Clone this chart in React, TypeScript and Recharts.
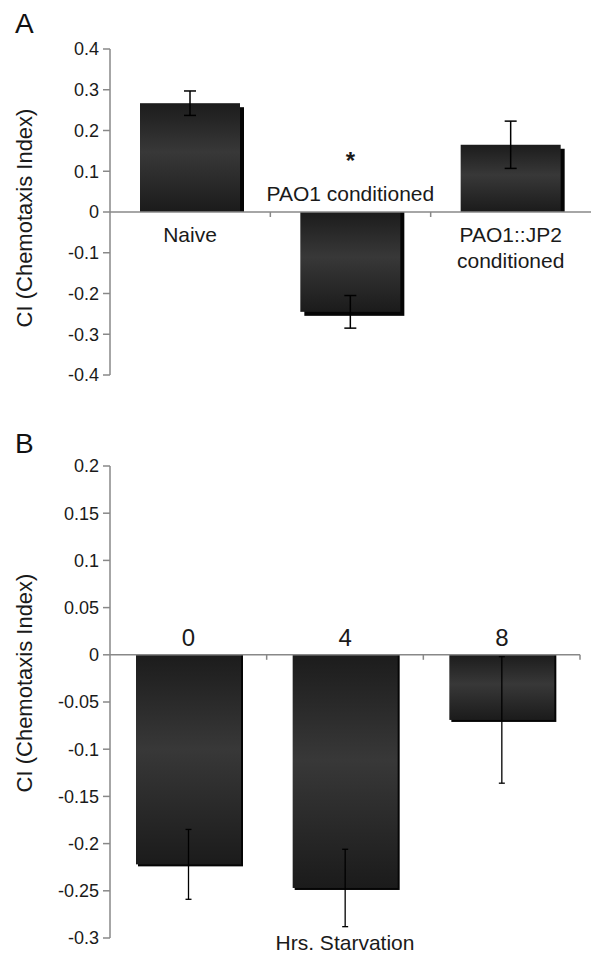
import React from 'react';
import { BarChart, Bar, XAxis, YAxis, ErrorBar, ReferenceLine, ReferenceDot, LabelList } from 'recharts';

const FONT = '"Liberation Sans", Arial, Helvetica, sans-serif';

// ---------- Panel A data ----------
const groupsA = ['Naive', 'PAO1 conditioned', 'PAO1::JP2 conditioned'];
const labelLinesA = [['Naive'], ['PAO1 conditioned'], ['PAO1::JP2', 'conditioned']];
const marksA = ['', '*', ''];
const ciA = [0.267, -0.245, 0.165];
const errA = [0.03, 0.04, 0.058];
const ticksA = [-0.4, -0.3, -0.2, -0.1, 0, 0.1, 0.2, 0.3, 0.4];

// ---------- Panel B data ----------
const hoursB = ['0', '4', '8'];
const ciB = [-0.222, -0.247, -0.069];
const errB = [0.037, 0.041, 0.067];
const ticksB = [-0.3, -0.25, -0.2, -0.15, -0.1, -0.05, 0, 0.05, 0.1, 0.15, 0.2];

const yTitle = 'CI (Chemotaxis Index)';
const xTitleB = 'Hrs. Starvation';

const dataA = groupsA.map((name, i) => ({
  name,
  slot: i + 0.5,
  ci: ciA[i],
  err: errA[i],
  lines: labelLinesA[i],
  mark: marksA[i],
}));

const dataB = hoursB.map((name, i) => ({
  name,
  slot: i + 0.5,
  ci: ciB[i],
  err: errB[i],
}));

const makeShape = (id: string, shadow: number) => (props: any) => {
  const { x, y, width, height, index } = props;
  const v = props.payload ? props.payload.ci : 0;
  const top = Math.min(y, y + height);
  const h = Math.abs(height);
  const neg = v < 0;
  const gid = `${id}-${index}`;
  return (
    <g>
      <defs>
        <linearGradient id={gid} x1="0" y1="0" x2="0" y2="1">
          <stop offset="0%" stopColor="#1c1c1c" />
          <stop offset="45%" stopColor="#383838" />
          <stop offset="100%" stopColor="#1b1b1b" />
        </linearGradient>
      </defs>
      <rect
        x={x + shadow}
        y={neg ? top : top + shadow}
        width={width}
        height={neg ? h + shadow : Math.max(0, h - shadow)}
        fill="#050505"
      />
      <rect x={x} y={top} width={width} height={h} fill={`url(#${gid})`} />
    </g>
  );
};

const readBox = (props: any) => {
  const vb = props.viewBox && props.viewBox.width !== undefined ? props.viewBox : props;
  return { x: Number(vb.x), y: Number(vb.y), width: Number(vb.width), height: Number(vb.height) };
};

const labelA = (props: any) => {
  const d = dataA.find((r) => r.name === props.value);
  if (!d) return null;
  const { x, y, width, height } = readBox(props);
  const neg = d.ci < 0;
  const zero = neg ? Math.min(y, y + height) : Math.max(y, y + height);
  const cx = x + width / 2;
  const lh = 26;
  const out: any[] = [];
  if (neg) {
    const n = d.lines.length;
    d.lines.forEach((t, i) => {
      out.push(
        <text key={'l' + i} x={cx} y={zero - 11 - (n - 1 - i) * lh} textAnchor="middle" fontSize={21} fill="#1a1a1a" fontFamily={FONT}>
          {t}
        </text>
      );
    });
    if (d.mark) {
      out.push(
        <text key="m" x={cx} y={zero - 11 - (n - 1) * lh - 32} textAnchor="middle" fontSize={24} fontWeight="bold" fill="#1a1a1a" fontFamily={FONT}>
          {d.mark}
        </text>
      );
    }
  } else {
    d.lines.forEach((t, i) => {
      out.push(
        <text key={'l' + i} x={cx} y={zero + 30 + i * lh} textAnchor="middle" fontSize={21} fill="#1a1a1a" fontFamily={FONT}>
          {t}
        </text>
      );
    });
  }
  return <g>{out}</g>;
};

const labelB = (props: any) => {
  const d = dataB.find((r) => r.name === props.value);
  if (!d) return null;
  const { x, y, width, height } = readBox(props);
  const zero = d.ci < 0 ? Math.min(y, y + height) : Math.max(y, y + height);
  return (
    <text x={x + width / 2} y={zero - 9} textAnchor="middle" fontSize={24} fill="#1a1a1a" fontFamily={FONT}>
      {d.name}
    </text>
  );
};

const catTick = (props: any) => (
  <line x1={props.cx} y1={props.cy} x2={props.cx} y2={props.cy + 5} stroke="#888" strokeWidth={1.5} />
);

const axisStyle = { stroke: '#888', strokeWidth: 1.5 };
const tickStyle = { fontSize: 18, fill: '#1a1a1a', fontFamily: FONT };

export default function App() {
  return (
    <div style={{ position: 'absolute', left: 0, top: 0, width: 591, height: 954, overflow: 'hidden', background: '#fff' }}>
      <div style={{ position: 'absolute', left: 0, top: 0 }}>
        <BarChart width={591} height={420} data={dataA} margin={{ top: 49, right: 0, bottom: 45, left: 0 }}>
          <XAxis type="number" dataKey="slot" domain={[0, 3]} hide />
          <YAxis
            type="number"
            domain={[-0.4, 0.4]}
            ticks={ticksA}
            interval={0}
            width={110}
            axisLine={axisStyle}
            tickLine={axisStyle}
            tickSize={7}
            tickMargin={4}
            tick={tickStyle}
            allowDataOverflow
          />
          <ReferenceLine y={0} stroke="#888" strokeWidth={1.5} />
          <ReferenceDot x={1} y={0} shape={catTick} />
          <ReferenceDot x={2} y={0} shape={catTick} />
          <Bar dataKey="ci" barSize={100} isAnimationActive={false} shape={makeShape('gA', 4)}>
            <ErrorBar dataKey="err" width={6} stroke="#000" strokeWidth={1.5} direction="y" />
            <LabelList dataKey="name" content={labelA} />
          </Bar>
        </BarChart>
      </div>
      <div style={{ position: 'absolute', left: 0, top: 420 }}>
        <BarChart width={591} height={534} data={dataB} margin={{ top: 46, right: 11, bottom: 16, left: 0 }}>
          <XAxis type="number" dataKey="slot" domain={[0, 3]} hide />
          <YAxis
            type="number"
            domain={[-0.3, 0.2]}
            ticks={ticksB}
            interval={0}
            width={110}
            axisLine={axisStyle}
            tickLine={axisStyle}
            tickSize={7}
            tickMargin={4}
            tick={tickStyle}
            allowDataOverflow
          />
          <ReferenceLine y={0} stroke="#888" strokeWidth={1.5} />
          <ReferenceDot x={1} y={0} shape={catTick} />
          <ReferenceDot x={2} y={0} shape={catTick} />
          <ReferenceDot x={3} y={0} shape={catTick} />
          <Bar dataKey="ci" barSize={105} isAnimationActive={false} shape={makeShape('gB', 2)}>
            <ErrorBar dataKey="err" width={3} stroke="#000" strokeWidth={1.3} direction="y" />
            <LabelList dataKey="name" content={labelB} />
          </Bar>
        </BarChart>
      </div>
      <svg width={591} height={954} style={{ position: 'absolute', left: 0, top: 0, pointerEvents: 'none' }}>
        <text x={15} y={33} fontSize={28} fill="#111" fontFamily={FONT}>A</text>
        <text x={15} y={453} fontSize={28} fill="#111" fontFamily={FONT}>B</text>
        <text transform="translate(32,218) rotate(-90)" textAnchor="middle" fontSize={22} fill="#1a1a1a" fontFamily={FONT}>
          {yTitle}
        </text>
        <text transform="translate(32,683) rotate(-90)" textAnchor="middle" fontSize={22} fill="#1a1a1a" fontFamily={FONT}>
          {yTitle}
        </text>
        <text x={345} y={950} textAnchor="middle" fontSize={21} fill="#1a1a1a" fontFamily={FONT}>
          {xTitleB}
        </text>
      </svg>
    </div>
  );
}
